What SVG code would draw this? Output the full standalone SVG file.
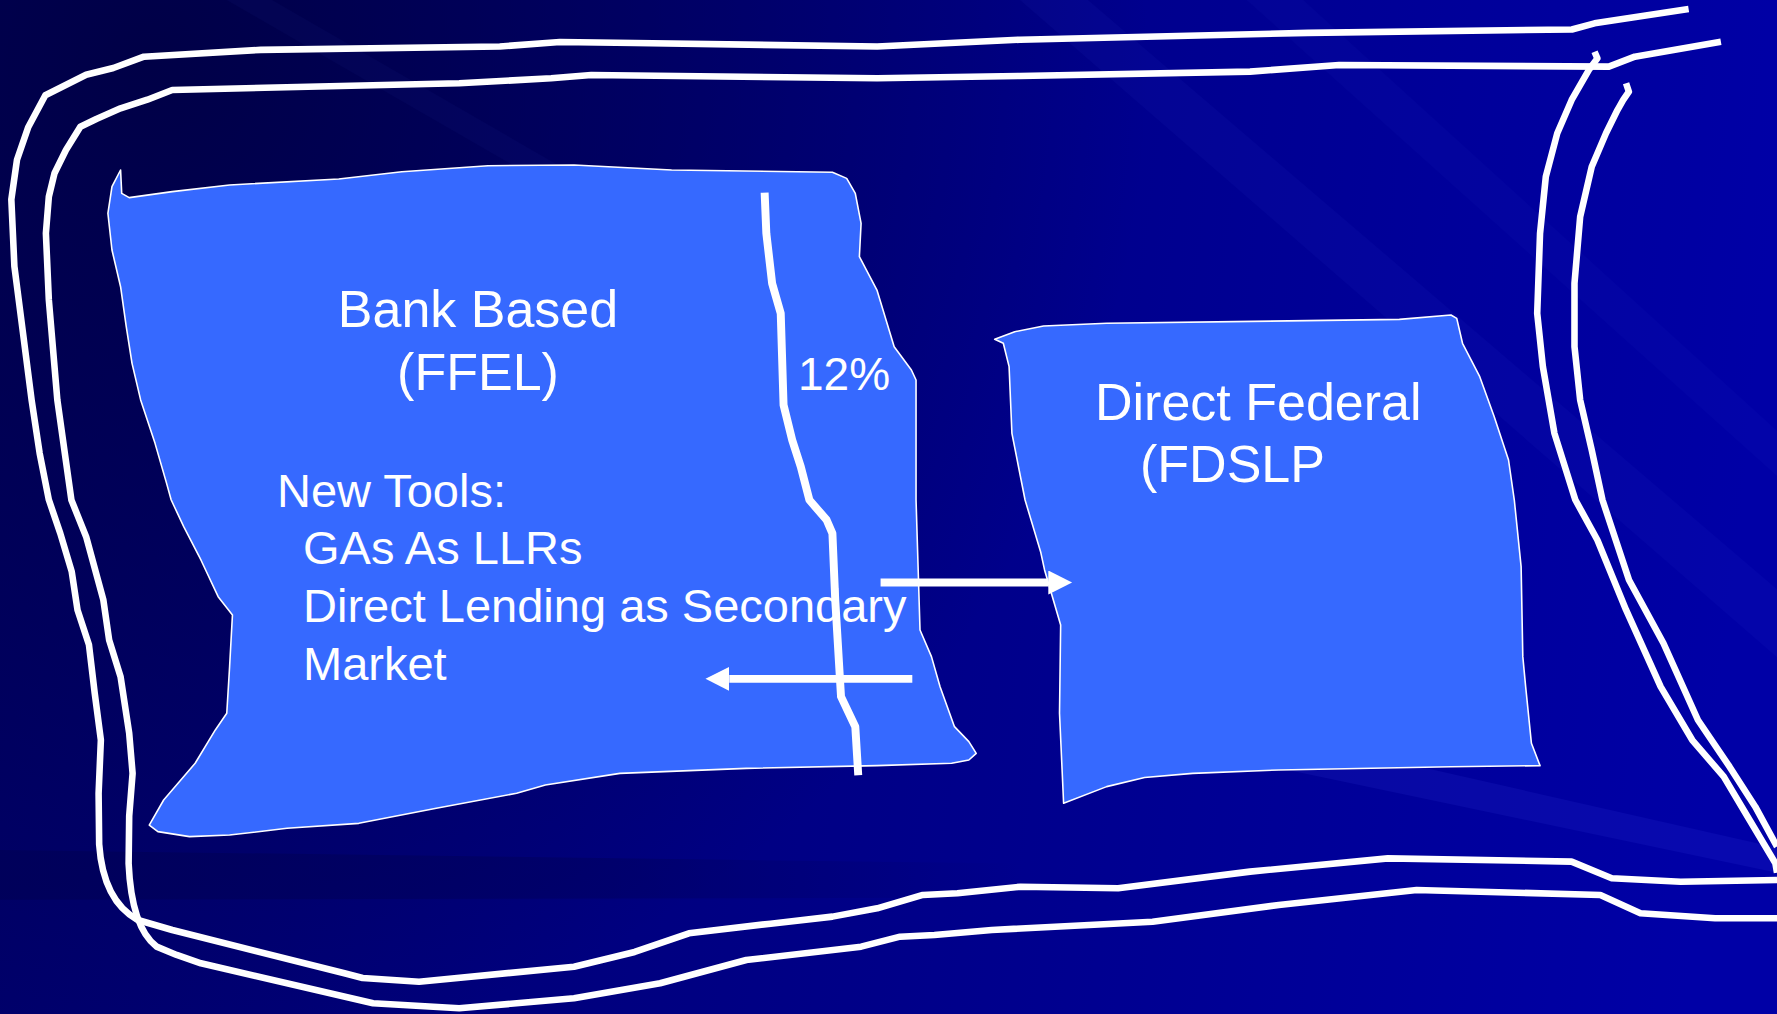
<svg xmlns="http://www.w3.org/2000/svg" width="1777" height="1014" viewBox="0 0 1777 1014">
  <defs>
    <linearGradient id="bgLin" x1="0" y1="0" x2="1777" y2="200" gradientUnits="userSpaceOnUse">
      <stop offset="0" stop-color="#000068"/>
      <stop offset="0.55" stop-color="#000088"/>
      <stop offset="1" stop-color="#0000a6"/>
    </linearGradient>
    <radialGradient id="bgDark" cx="150" cy="60" r="1000" gradientUnits="userSpaceOnUse">
      <stop offset="0" stop-color="#000040" stop-opacity="0.85"/>
      <stop offset="1" stop-color="#000040" stop-opacity="0"/>
    </radialGradient>
    <linearGradient id="bandFade" x1="0" y1="0" x2="900" y2="0" gradientUnits="userSpaceOnUse">
      <stop offset="0" stop-color="#000050" stop-opacity="0.5"/>
      <stop offset="0.6" stop-color="#000050" stop-opacity="0.35"/>
      <stop offset="1" stop-color="#000050" stop-opacity="0"/>
    </linearGradient>
    <marker id="head" markerUnits="userSpaceOnUse" markerWidth="22" markerHeight="22" refX="0" refY="10.6" orient="auto">
      <path d="M0,0 L21,10.6 L0,21.2 Z" fill="#ffffff"/>
    </marker>
    <style>
      .frame { fill: none; stroke: #ffffff; stroke-width: 5.8; stroke-linejoin: round; stroke-linecap: butt; }
      .node { fill: #3669ff; stroke: #ffffff; stroke-width: 1.4; stroke-linejoin: round; }
      .title { font-family: "Liberation Sans", Arial, sans-serif; font-size: 52px; fill: #ffffff; }
      .item { font-family: "Liberation Sans", Arial, sans-serif; font-size: 47px; fill: #ffffff; }
      .pct { font-family: "Liberation Sans", Arial, sans-serif; font-size: 46px; fill: #ffffff; }
      .divider { fill: none; stroke: #ffffff; stroke-width: 7; stroke-linejoin: round; }
      .arrow { fill: none; stroke: #ffffff; stroke-width: 7; marker-end: url(#head); }
      .ray { fill: #4a5cff; }
    </style>
  </defs>

  <g id="background">
    <rect x="0" y="0" width="1777" height="1014" fill="url(#bgLin)"/>
    <rect x="0" y="0" width="1777" height="1014" fill="url(#bgDark)"/>
    <g transform="scale(1.1333)">
      <polygon class="ray" opacity="0.05" points="900,0 960,0 1568,520 1568,580"/>
      <polygon class="ray" opacity="0.04" points="1100,0 1150,0 1568,380 1568,420"/>
      <polygon class="ray" opacity="0.04" points="200,0 240,0 760,300 720,300"/>
      <polygon class="ray" opacity="0.10" points="1120,676 1250,676 1568,748 1568,770"/>
      <polygon fill="url(#bandFade)" points="0,750 900,762 900,792 0,794"/>
    </g>
  </g>

  <g id="frame" transform="scale(1.1333)">
    <path class="frame" d="M1490,8 L1407,20.6 L1387,26 L1154,29 L900,35 L774,41 L560,38 L494,37 L441,41 L230,44 L127,50 L100,60 L76,66 L58,75 L40,84 L25,112 L15,141 L10,176 L12.7,235 L20.3,294 L27.9,353 L35,400 L43.1,441 L53.2,470.6 L63.3,504.4 L68.4,538.2 L78.5,569 L83.6,611.8 L89,653 L87,700 L87.5,745 Q91,795 121.6,811.8 L152,820.6 L303.9,858.8 L320,863 L369.8,866.2 L506.5,853 L560,840 L607.9,823.5 L680,815 L734.5,808.8 L774,801.5 L814.3,789.7 L844.8,788.2 L900.5,782.4 L986.6,783.8 L1103,769.1 L1224.6,757.4 L1386.7,760.3 L1422.2,775 L1483,778 L1568,776.5"/>
    <path class="frame" d="M1518.5,36.8 L1442.5,50 L1419.6,58.8 L1181.6,57.4 L1103,63.2 L900,67 L774,69 L521.7,66.2 L486.3,69.1 L405.2,73.5 L152,79.4 L130,88 L106.4,95.6 L85,105 L70.9,111.8 L58.2,132.4 L48.1,152.9 L43.1,173.5 L40.5,205.9 L43.1,264.7 L50.6,352.9 L63,441.2 L76,473.6 L91.2,529.4 L96.3,564.7 L106.4,597.1 L114,647.1 L117,682.4 L114,720 L113.5,762 Q116,818 138.2,835.3 L155.9,842.6 L177.3,850 L329.2,885.3 L405.2,889.7 L506.5,880.9 L582.5,867.6 L658.5,847.1 L759.8,835.3 L794.2,826.5 L824.5,825 L875.1,820.6 L1017,813.3 L1128.4,798.5 L1250,785.3 L1412.1,789.7 L1447.5,805.9 L1513.4,810.3 L1568,810.3"/>
    <path class="frame" d="M1407,45.6 L1409.5,51.5 L1401.9,61.8 L1386.8,88.2 L1374.1,117.6 L1364,155.9 L1358.9,205.9 L1356.4,276.5 L1361.4,323.5 L1371.6,382.4 L1390,441 L1409.5,476.5 L1434.8,538.2 L1465.3,605.9 L1493.2,653 L1521,685.3 L1543.8,723.5 L1566.6,761.8 L1568,770"/>
    <path class="frame" d="M1434.8,73.5 L1437.3,80.9 L1432.3,88.2 L1427.2,97.1 L1417.1,117.6 L1404.5,147.1 L1394.3,191.2 L1389.3,250 L1389.3,305.9 L1394.3,352.9 L1404.5,397.1 L1414,441.2 L1437.4,511.8 L1467.8,567.6 L1498.2,635.3 L1526.1,676.5 L1548.8,711.8 L1568,747"/>
  </g>

  <g id="node-ffel">
    <path class="node" transform="scale(1.1333)" d="M106.4,150 L107.4,170.6 L114,174.4 L152,169.1 L202.6,163.2 L298.9,157.9 L354.6,151.5 L430.6,146.2 L506.5,145.6 L592.6,150 L734.5,152 L747.1,157.4 L754.7,170.6 L759.8,197.1 L758.3,226.5 L773.8,255.9 L789,305.9 L804.2,326.5 L808.3,335.3 L808.3,441.2 L811.8,555.9 L821.9,579.4 L829.5,605.9 L842.2,641.2 L854.9,654.4 L861.4,664.7 L854.9,670.6 L839.7,673.5 L773.8,675.6 L658.5,678 L547,682.4 L481.2,692.6 L455.9,700 L385,713.2 L316.6,726.5 L253.3,730.9 L202.6,736.8 L167.2,738.2 L139.3,733.8 L131.7,728 L144.4,705.9 L172.2,673.5 L190,644.1 L200.1,629.4 L202.6,588.2 L205.1,542.6 L192.5,526.5 L177.3,494.1 L162.1,464.7 L151,441 L147,426.5 L136.8,391.2 L124.1,352.9 L116.5,320.6 L111.4,288.2 L106.4,253 L98.8,220.6 L95.2,188.2 L98.8,164.7 Z"/>
    <text class="title" x="478" y="327" text-anchor="middle">Bank Based</text>
    <text class="title" x="478" y="390" text-anchor="middle">(FFEL)</text>
    <text class="pct" x="798" y="390">12%</text>
    <text class="item" x="277" y="507">New Tools:</text>
    <text class="item" x="303" y="564">GAs As LLRs</text>
    <text class="item" x="303" y="622">Direct Lending as Secondary</text>
    <text class="item" x="303" y="680">Market</text>
  </g>

  <g id="node-fdslp">
    <path class="node" transform="scale(1.1333)" d="M877.7,299.4 L895.4,292.7 L920.8,287.6 L976.5,285.3 L1234.8,281.8 L1280.3,278 L1285.4,280.9 L1290.5,302.9 L1305.7,332.4 L1318.4,367.6 L1331.1,405.9 L1336.2,441.2 L1342.2,500 L1343.7,579.4 L1346.2,605.9 L1351.3,655.9 L1358.9,675.6 L1280.3,676.5 L1128.4,679.4 L1052.4,682.4 L1010,686 L976.5,694.1 L938.5,708.8 L934.9,629.4 L935.9,551.5 L921.7,502.9 L918.2,486.8 L904.5,441.2 L892.9,382.4 L890.4,323.5 L885.3,302.9 Z"/>
    <text class="title" x="1095" y="420">Direct Federal</text>
    <text class="title" x="1140" y="482">(FDSLP</text>
  </g>

  <g id="connectors" transform="scale(1.1333)">
    <path class="divider" d="M674.7,170 L676.2,205.9 L681.3,250 L688.9,276.5 L691.4,357.4 L699,388.2 L706.6,411.8 L714.2,441.2 L729.4,458.8 L734.5,470.6 L737,529.4 L742.1,614.7 L754.7,641.2 L757.3,684"/>
    <path class="arrow" d="M777,514 L925,514"/>
    <path class="arrow" d="M805,599 L643.5,599"/>
  </g>
</svg>
